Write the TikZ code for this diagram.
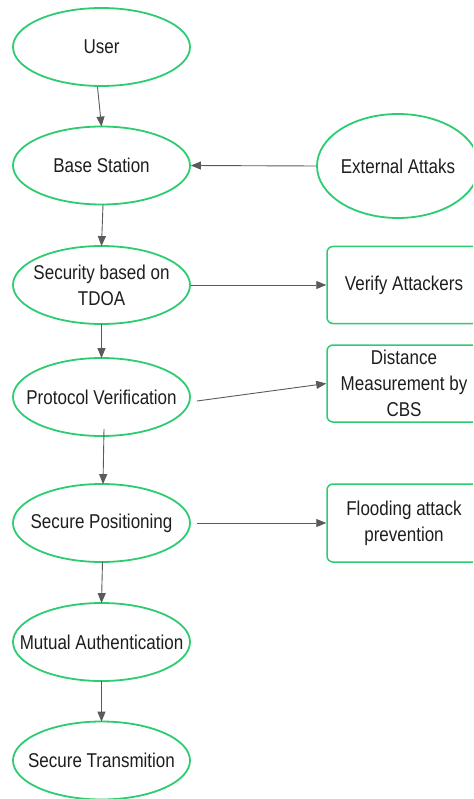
\documentclass[tikz,border=0pt]{standalone}
\usepackage{fontspec}
\setmainfont{Liberation Sans}[FakeStretch=0.85]
\usetikzlibrary{shapes.geometric,arrows.meta}
\definecolor{boxgreen}{RGB}{46,204,113}
\definecolor{linkgrey}{RGB}{90,90,90}
\definecolor{inkdark}{RGB}{30,30,30}
\begin{document}
\begin{tikzpicture}[x=1pt,y=-1pt,
  txt/.style={font=\fontsize{20}{26}\selectfont, text=inkdark, align=center, inner sep=0pt},
  oval/.style={ellipse, draw=boxgreen, line width=1.8pt, fill=white,
    minimum width=177pt, minimum height=78pt, inner sep=0pt},
  bigoval/.style={oval, minimum width=162pt, minimum height=104pt},
  card/.style={rectangle, rounded corners=6pt, draw=boxgreen, line width=1.5pt, fill=white,
    minimum width=154pt, minimum height=77pt, inner sep=0pt, txt},
  link/.style={draw=linkgrey, line width=0.9pt,
    -{Triangle[length=10pt,width=8pt]}}
]
\useasboundingbox (0,0) rectangle (473,799);
\clip (0,0) rectangle (473,799);

% main chain of ellipses
\node[oval, label={[txt]center:User}] (user) at (101.5,47) {};
\node[oval, label={[txt]center:Base Station}] (base) at (101.5,165.5) {};
\node[oval, label={[txt]center:Security based on\\TDOA}] (sec) at (101.5,285) {};
\node[oval, label={[txt]center:Protocol Verification}] (proto) at (101.5,397) {};
\node[oval, label={[txt]center:Secure Positioning}] (spos) at (101.5,523) {};
\node[oval, label={[txt]center:Mutual Authentication}] (mutual) at (101.5,642) {};
\node[oval, label={[txt]center:Secure Transmition}] (trans) at (101.5,760.5) {};

% side elements
\node[bigoval, label={[txt]center:External Attaks}] (ext) at (398,166) {};
\node[card] (verify) at (404,285) {Verify Attackers};
\node[card] (dist) at (404,383.5) {Distance\\Measurement by\\CBS};
\node[card, minimum height=78pt] (flood) at (404,523) {Flooding attack\\prevention};

% vertical flow
\draw[link] ([xshift=-4pt]user.south) -- ([yshift=-1pt]base.north);
\draw[link] ([xshift=1.5pt,yshift=1pt]base.south) -- ([yshift=-1pt]sec.north);
\draw[link] ([yshift=1pt]sec.south) -- ([yshift=-1pt]proto.north);
\draw[link] ([xshift=2.5pt,yshift=8pt]proto.south) -- ([xshift=1.5pt,yshift=-1pt]spos.north);
\draw[link] ([xshift=1pt,yshift=1pt]spos.south) -- ([yshift=-1pt]mutual.north);
\draw[link] ([yshift=1pt]mutual.south) -- ([yshift=-1pt]trans.north);

% side links
\draw[link] (ext.west) -- (base.east);
\draw[link] (sec.east) -- (verify.west);
\draw[link] ([xshift=6pt,yshift=-4pt]proto.east) -- (dist.west);
\draw[link] ([xshift=6pt]spos.east) -- (flood.west);
\end{tikzpicture}
\end{document}
